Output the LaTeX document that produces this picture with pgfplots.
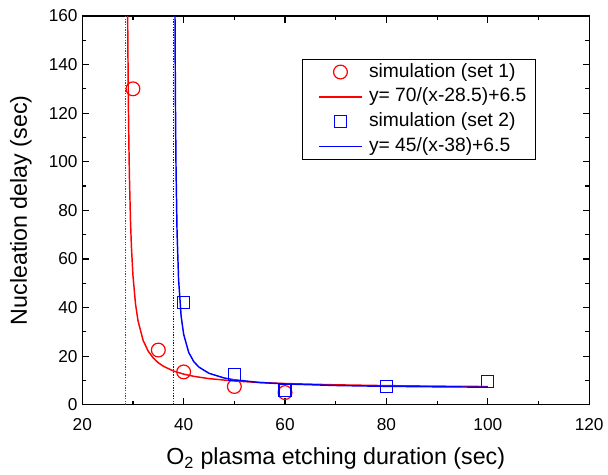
\documentclass[border=0pt]{standalone}
\usepackage{fontspec}
\setmainfont{Liberation Sans}
\usepackage{pgfplots}
\pgfplotsset{compat=1.18}
\pgfplotsset{
    mylegimg/.style={
        legend image code/.code={
            \path (-5pt,0pt);
            \draw[mark repeat=2, mark phase=2, ##1] plot coordinates {(0pt,0pt) (16.5pt,0pt) (33pt,0pt)};
        }
    }
}
\begin{document}
\begin{tikzpicture}
\begin{axis}[
    name=ax,
    scale only axis,
    width=382pt, height=293pt,
    xmin=20, xmax=120, ymin=0, ymax=160,
    xtick={20,40,...,120}, ytick={0,20,...,160},
    minor x tick num=1, minor y tick num=1,
    tick align=inside,
    major tick length=5pt, minor tick length=3pt,
    tick style={black, line width=0.9pt},
    axis line style={line width=1pt},
    /pgf/number format/assume math mode=true,
    ticklabel style={font=\fontsize{13}{15}\selectfont},
    xticklabel style={yshift=-7pt},
    xlabel={O\textsubscript{2} plasma etching duration (sec)},
    ylabel={Nucleation delay (sec)},
    label style={font=\fontsize{17.5}{20}\selectfont},
    xlabel style={yshift=-6pt},
    ylabel style={yshift=6pt},
    legend style={at={(rel axis cs:0.895,0.890)}, anchor=north east,
        font=\fontsize{14.5}{17}\selectfont, draw=black, line width=0.6pt,
        nodes={inner sep=0pt, text height=10.5pt, text depth=3pt},
        row sep=5.25pt, column sep=4.5pt, inner xsep=7pt, inner ysep=3pt},
    legend cell align=left,
    mylegimg,
]
\addplot[only marks, mark=o, color=red, mark size=5.2pt, line width=0.9pt, mylegimg] coordinates {
    (30,130) (35,22.5) (40,13.5) (50,7.5) (60,5)
};
\addlegendentry{simulation (set 1)}
\addplot[color=red, line width=1.1pt, no marks, mylegimg] coordinates {
    (28.956,160) (29,146.5) (29.1,123.17) (29.2,106.5) (29.3,94) (29.5,76.5)
    (29.7,64.83) (30,53.17) (30.5,41.5) (31,34.5) (32,26.5) (33,22.06)
    (34,19.23) (35,17.27) (36,15.83) (38,13.87) (40,12.59) (42,11.69)
    (45,10.74) (50,9.76) (55,9.14) (60,8.72) (70,8.19) (80,7.86)
    (90,7.64) (100,7.48)
};
\addlegendentry{y= 70/(x-28.5)+6.5}
\addplot[only marks, mark=square, color=blue, mark size=4.5pt, line width=0.9pt, mylegimg] coordinates {
    (40,42) (50,12.5) (60,6) (80,7.5) (100,9.5)
};
\addlegendentry{simulation (set 2)}
\addplot[color=blue, line width=1.1pt, no marks, mylegimg] coordinates {
    (38.293,160) (38.35,135.07) (38.4,119) (38.5,96.5) (38.7,70.79)
    (39,51.5) (39.5,36.5) (40,29) (41,21.5) (42,17.75) (43,15.5)
    (45,12.93) (48,11) (50,10.25) (55,9.15) (60,8.55) (70,7.91)
    (80,7.57) (90,7.37) (100,7.23)
};
\addlegendentry{y= 45/(x-38)+6.5}
% asymptotes of the two fits
\addplot[color=red, densely dotted, line width=1pt, no marks, forget plot] coordinates {(28.5,0) (28.5,160)};
\addplot[color=blue, densely dotted, line width=1pt, no marks, forget plot] coordinates {(38,0) (38,160)};
\end{axis}
\path ([xshift=-62pt,yshift=-51pt]ax.south west) rectangle ([xshift=12pt,yshift=12pt]ax.north east);
\end{tikzpicture}
\end{document}
